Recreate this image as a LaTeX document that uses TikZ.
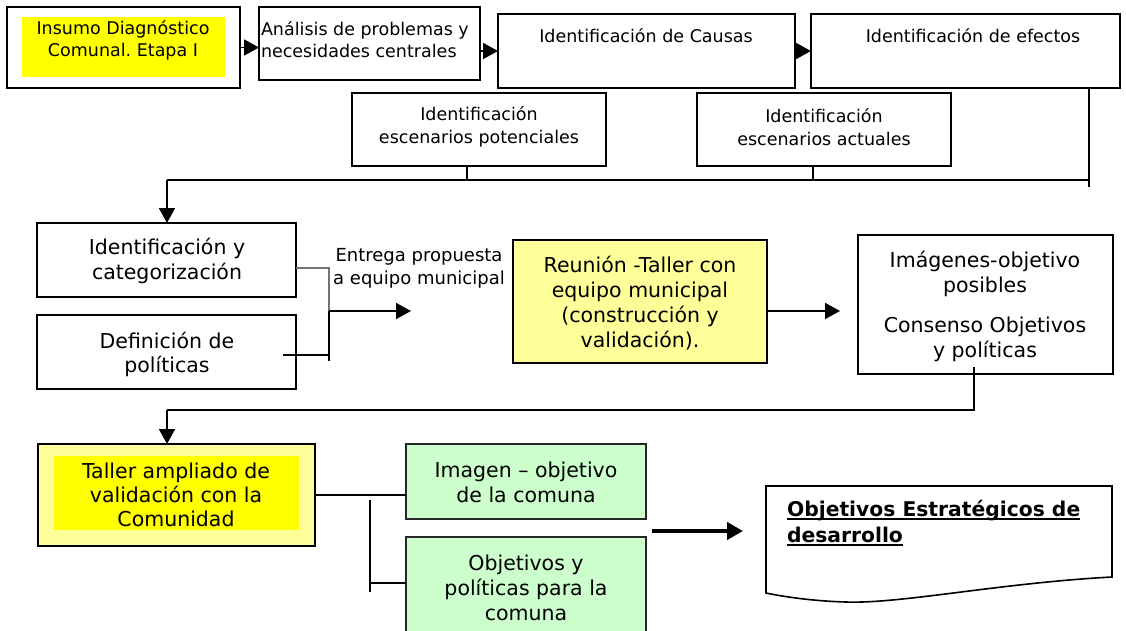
\documentclass[tikz,border=0pt]{standalone}
\usepackage{fontspec}
\setmainfont{DejaVu Sans}
\usetikzlibrary{arrows.meta,calc}
\definecolor{yel}{HTML}{FFFF00}
\definecolor{lyel}{HTML}{FFFF99}
\definecolor{lgreen}{HTML}{CCFFCC}
\newcommand\thkul[1]{{\setbox0\hbox{#1}\rlap{\rule[-3.5pt]{\wd0}{1.6pt}}\box0}}
\frenchspacing
\begin{document}
\begin{tikzpicture}[x=1pt,y=-1pt,
  font=\fontsize{17.5}{24}\selectfont\frenchspacing,
  box/.style={draw=black, line width=1.6pt, inner sep=0pt, outer sep=0pt},
  thickbox/.style={box, line width=2.5pt},
  txt/.style={align=center, inner sep=0pt, outer sep=0pt},
  bigtxt/.style={txt, font=\fontsize{20.5}{25}\selectfont},
  conn/.style={line width=1.8pt},
  arr/.style={line width=1.8pt, -{Triangle[length=15pt,width=16pt]}},
  bigarr/.style={line width=4pt, -{Triangle[length=16pt,width=17pt]}}]
\useasboundingbox (0,0) rectangle (1126,631);

% top row
\node[box, line width=2pt, minimum width=233pt, minimum height=81pt] (b1) at (123.5,47.5) {};
\node[fill=yel, inner sep=0pt, minimum width=203pt, minimum height=60pt] (b1y) at (123.5,47) {};
\node[txt, font=\fontsize{17.5}{22}\selectfont] (b1t) at (123,40) {Insumo Diagnóstico\\Comunal. Etapa I};

\node[box, minimum width=221pt, minimum height=73pt] (b2) at (369.5,43.5) {};
\node[txt, align=left, anchor=west, font=\fontsize{17.5}{22}\selectfont] (b2t) at (261,40) {Análisis de problemas y\\necesidades centrales};

\node[box, minimum width=297pt, minimum height=74pt] (b3) at (646.5,51) {};
\node[txt] (b3t) at (646,36) {Identificación de Causas};

\node[box, minimum width=309pt, minimum height=74pt] (b4) at (965.5,51) {};
\node[txt] (b4t) at (973,36) {Identificación de efectos};

\draw[arr] (b1.east) -- (b1.east -| b2.west);
\draw[arr] (b2.east |- b3.west) -- (b3.west);
\draw[arr] (b3.east) -- (b4.west);

% scenarios
\node[box, minimum width=254pt, minimum height=73pt] (e1) at (479,129.5) {};
\node[txt, font=\fontsize{17.5}{23}\selectfont] (e1t) at (479,127) {Identificación\\escenarios potenciales};
\node[box, minimum width=254pt, minimum height=73pt] (e2) at (824,129.5) {};
\node[txt, font=\fontsize{17.5}{23}\selectfont] (e2t) at (824,127) {Identificación\\escenarios actuales};

\coordinate (h0) at (167,180);
\coordinate (h1) at (467,180);
\coordinate (h2) at (813,180);
\coordinate (h3) at (1089,180);
\coordinate (h3e) at (1089,187);
\draw[conn] (e1.south -| h1) -- (h1);
\draw[conn] (e2.south -| h2) -- (h2);
\draw[conn] (b4.south -| h3) -- (h3e);
\draw[conn] (h3) -- (h0);

% second block
\node[box, minimum width=259pt, minimum height=74pt] (c1) at (166.5,260) {};
\node[bigtxt] (c1t) at (167,261) {Identificación y\\categorización};
\node[box, minimum width=259pt, minimum height=74pt] (c2) at (166.5,352) {};
\node[bigtxt, font=\fontsize{20.5}{24}\selectfont] (c2t) at (167,354) {Definición de\\políticas};
\draw[arr] (h0) -- (c1.north -| h0);

\coordinate (m1) at (329,268);
\coordinate (m2) at (329,311);
\coordinate (m3) at (329,361);
\coordinate (m4) at (329,355);
\coordinate (m5) at (283,355);
\coordinate (mend) at (411,311);
\draw[line width=1.3pt, black!55] (c1.east |- m1) -- (m1) -- (m2);
\draw[conn] (m2) -- (m3);
\draw[conn] (m5) -- (m4);
\draw[arr] (m2) -- (mend);
\node[txt, font=\fontsize{18}{23}\selectfont] (ent) at (419,268) {Entrega propuesta\\a equipo municipal};

\node[thickbox, fill=lyel, minimum width=254pt, minimum height=123pt] (r) at (640,301.5) {};
\node[bigtxt] (rt) at (640,303) {Reunión -Taller con\\equipo municipal\\(construcción y\\validación).};

\node[box, minimum width=255pt, minimum height=139pt] (im) at (985.5,304.5) {};
\node[bigtxt] (imt) at (985,306) {Imágenes-objetivo\\posibles\\[15pt]Consenso Objetivos\\y políticas};

\coordinate (rend) at (840,311);
\draw[arr] (r.east |- rend) -- (rend);

% feedback to Taller
\coordinate (f0) at (974,367);
\coordinate (f1) at (974,410);
\coordinate (f2) at (167,410);
\draw[conn] (f0) -- (f1) -- (f2);

% bottom block
\node[thickbox, fill=lyel, minimum width=277pt, minimum height=102pt] (t) at (176.5,495) {};
\node[fill=yel, inner sep=0pt, minimum width=245pt, minimum height=74pt] (ty) at (176.5,493) {};
\node[bigtxt, font=\fontsize{20.5}{24}\selectfont] (tt) at (176,495) {Taller ampliado de\\validación con la\\Comunidad};
\draw[arr] (f2) -- (t.north -| f2);

\node[box, draw=black!85, line width=2pt, fill=lgreen, minimum width=240pt, minimum height=75pt] (g1) at (526,481.5) {};
\node[bigtxt] (g1t) at (526,482) {Imagen – objetivo\\de la comuna};
\node[box, draw=black!85, line width=2pt, fill=lgreen, minimum width=240pt, minimum height=108pt] (g2) at (526,591) {};
\node[bigtxt] (g2t) at (526,588) {Objetivos y\\políticas para la\\comuna};

\draw[conn] (t.east) -- (t.east -| g1.west);
\coordinate (v1) at (370,500);
\coordinate (v2) at (370,592);
\coordinate (v3) at (370,583);
\draw[conn] (v1) -- (v2);
\draw[conn] (v3) -- (v3 -| g2.west);

% document shape
\coordinate (d1) at (766,486);
\coordinate (d2) at (1112,486);
\coordinate (d3) at (1112,577);
\coordinate (d4) at (846,602);
\coordinate (d5) at (766,593);
\draw[line width=1.6pt, fill=white] (d1) -- (d2) -- (d3)
  .. controls (1000,583) and (900,604) .. (d4)
  .. controls (810,601) and (780,596) .. (d5) -- cycle;
\node[txt, align=left, anchor=west, font=\bfseries\fontsize{20.3}{26}\selectfont] (doct) at (787,523)
  {\thkul{Objetivos Estratégicos de}\\\thkul{desarrollo}};

\coordinate (a0) at (652,531);
\coordinate (a1) at (743,531);
\draw[bigarr] (a0) -- (a1);
\end{tikzpicture}
\end{document}
